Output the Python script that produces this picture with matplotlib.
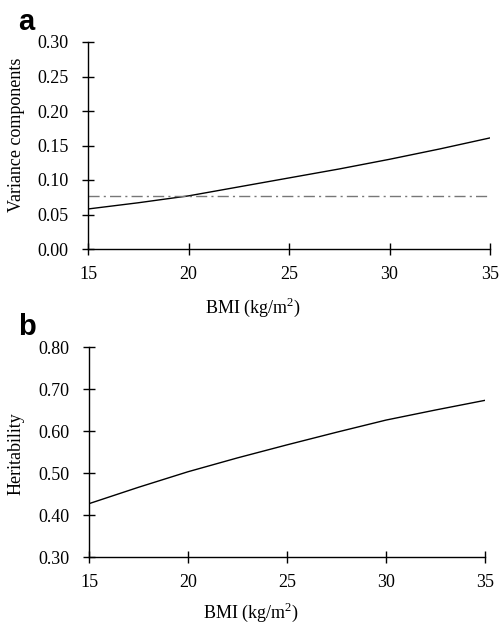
import matplotlib
matplotlib.use("Agg")
import matplotlib.pyplot as plt

plt.rcParams["font.family"] = ["Liberation Serif", "DejaVu Serif"]
plt.rcParams["mathtext.fontset"] = "custom"
plt.rcParams["mathtext.rm"] = "Liberation Serif"

bmi = [15, 17.5, 20, 22.5, 25, 27.5, 30, 32.5, 35]
variance_solid = [0.058, 0.067, 0.077, 0.090, 0.103, 0.116, 0.130, 0.145, 0.161]
variance_const = [0.077, 0.077, 0.077, 0.077, 0.077, 0.077, 0.077, 0.077, 0.077]
heritability = [0.427, 0.466, 0.503, 0.536, 0.567, 0.597, 0.626, 0.650, 0.673]

x_ticks = [15, 20, 25, 30, 35]
var_ticks = [0.00, 0.05, 0.10, 0.15, 0.20, 0.25, 0.30]
her_ticks = [0.30, 0.40, 0.50, 0.60, 0.70, 0.80]

fs = 13

fig = plt.figure(figsize=(5.0, 6.24), dpi=100)
# axes positions in figure fractions (from pixel layout)
ax1 = fig.add_axes([88 / 500, 1 - 249 / 624, 402 / 500, 207 / 624])
ax2 = fig.add_axes([89 / 500, 1 - 557 / 624, 396 / 500, 210 / 624])

def style(ax):
    for s in ["top", "right"]:
        ax.spines[s].set_visible(False)
    for s in ["left", "bottom"]:
        ax.spines[s].set_linewidth(1.0)
    ax.tick_params(direction="inout", length=9, width=1.0, labelsize=fs, pad=8)
    ax.tick_params(axis="y", pad=9.5)
    ax.set_xlim(15, 35)
    ax.set_xticks(x_ticks)
    ax.margins(0)

ax1.plot(bmi, variance_solid, color="black", lw=1.0)
ax1.plot(bmi, variance_const, color="#777777", lw=1.0, linestyle=(0, (8, 3, 1.5, 3)))
style(ax1)
ax1.set_ylim(0, 0.30)
ax1.set_yticks(var_ticks)
ax1.set_yticklabels(["%.2f" % v for v in var_ticks])
ax1.set_xlabel(r"BMI (kg/m$^2$)", fontsize=fs)
ax1.set_ylabel("Variance components", fontsize=fs)
ax1.xaxis.set_label_coords(0.41, -0.225)
ax1.yaxis.set_label_coords(-0.157, 0.55)

ax2.plot(bmi, heritability, color="black", lw=1.0)
style(ax2)
ax2.set_ylim(0.30, 0.80)
ax2.set_yticks(her_ticks)
ax2.set_yticklabels(["%.2f" % v for v in her_ticks])
ax2.set_xlabel(r"BMI (kg/m$^2$)", fontsize=fs)
ax2.set_ylabel("Heritability", fontsize=fs)
ax2.xaxis.set_label_coords(0.41, -0.209)
ax2.yaxis.set_label_coords(-0.162, 0.49)

fig.text(18 / 500, 1 - 30 / 624, "a", fontsize=21, fontweight="bold", family="Liberation Sans")
fig.text(18 / 500, 1 - 335 / 624, "b", fontsize=21, fontweight="bold", family="Liberation Sans")

fig.savefig("out.png", dpi=100)
